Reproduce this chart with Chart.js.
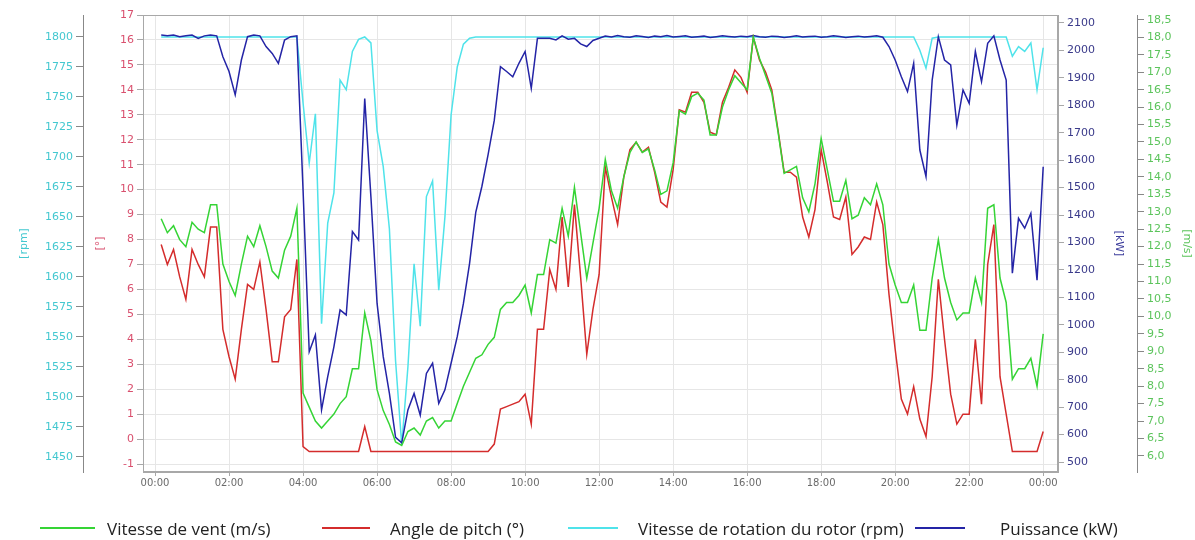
<!DOCTYPE html>
<html lang="fr">
<head>
<meta charset="utf-8">
<title>Eolienne - journée type</title>
<script src="https://cdn.jsdelivr.net/npm/chart.js@4.4.1/dist/chart.umd.min.js"></script>
<style>
  html, body { margin: 0; padding: 0; background: #fff; }
  #wrap { position: relative; width: 1195px; height: 540px; }
  #legend { position: absolute; left: 0; top: 516px; width: 1195px; height: 24px;
            font-family: "Open Sans", sans-serif; font-size: 17px; color: #222; }
  #legend .item { position: absolute; top: 0; height: 24px; display: flex; align-items: center; white-space: nowrap; }
  #legend .line { display: inline-block; height: 2px; }
</style>
</head>
<body>
<div id="wrap">
  <canvas id="myChart"></canvas>
  <div id="legend"></div>
</div>
<script>
// 10 min samples, one line = 2 hours
const TIMES = [
  "00:10","00:20","00:30","00:40","00:50","01:00","01:10","01:20","01:30","01:40","01:50","02:00",
  "02:10","02:20","02:30","02:40","02:50","03:00","03:10","03:20","03:30","03:40","03:50","04:00",
  "04:10","04:20","04:30","04:40","04:50","05:00","05:10","05:20","05:30","05:40","05:50","06:00",
  "06:10","06:20","06:30","06:40","06:50","07:00","07:10","07:20","07:30","07:40","07:50","08:00",
  "08:10","08:20","08:30","08:40","08:50","09:00","09:10","09:20","09:30","09:40","09:50","10:00",
  "10:10","10:20","10:30","10:40","10:50","11:00","11:10","11:20","11:30","11:40","11:50","12:00",
  "12:10","12:20","12:30","12:40","12:50","13:00","13:10","13:20","13:30","13:40","13:50","14:00",
  "14:10","14:20","14:30","14:40","14:50","15:00","15:10","15:20","15:30","15:40","15:50","16:00",
  "16:10","16:20","16:30","16:40","16:50","17:00","17:10","17:20","17:30","17:40","17:50","18:00",
  "18:10","18:20","18:30","18:40","18:50","19:00","19:10","19:20","19:30","19:40","19:50","20:00",
  "20:10","20:20","20:30","20:40","20:50","21:00","21:10","21:20","21:30","21:40","21:50","22:00",
  "22:10","22:20","22:30","22:40","22:50","23:00","23:10","23:20","23:30","23:40","23:50","24:00",
];

// m/s
const WIND_SPEED = [
  12.8, 12.4, 12.6, 12.2, 12.0, 12.7, 12.5, 12.4, 13.2, 13.2, 11.5, 11.0,
  10.6, 11.5, 12.3, 12.0, 12.6, 12.0, 11.3, 11.1, 11.9, 12.3, 13.1, 7.8,
  7.4, 7.0, 6.8, 7.0, 7.2, 7.5, 7.7, 8.5, 8.5, 10.1, 9.3, 7.9,
  7.3, 6.9, 6.4, 6.3, 6.7, 6.8, 6.6, 7.0, 7.1, 6.8, 7.0, 7.0,
  7.5, 8.0, 8.4, 8.8, 8.9, 9.2, 9.4, 10.2, 10.4, 10.4, 10.6, 10.9,
  10.1, 11.2, 11.2, 12.2, 12.1, 13.1, 12.3, 13.7, 12.4, 11.1, 12.1, 13.1,
  14.5, 13.6, 13.1, 14.0, 14.7, 15.0, 14.7, 14.8, 14.2, 13.5, 13.6, 14.4,
  15.9, 15.8, 16.3, 16.4, 16.2, 15.2, 15.2, 16.0, 16.5, 16.9, 16.7, 16.5,
  18.0, 17.4, 16.9, 16.4, 15.3, 14.1, 14.2, 14.3, 13.4, 13.0, 13.8, 15.1,
  14.2, 13.3, 13.3, 13.9, 12.8, 12.9, 13.4, 13.2, 13.8, 13.2, 11.5, 10.9,
  10.4, 10.4, 10.9, 9.6, 9.6, 11.1, 12.2, 11.1, 10.4, 9.9, 10.1, 10.1,
  11.1, 10.4, 13.1, 13.2, 11.1, 10.4, 8.2, 8.5, 8.5, 8.8, 8.0, 9.5,
];

// degrees
const PITCH = [
  7.8, 7.0, 7.6, 6.5, 5.6, 7.6, 7.0, 6.5, 8.5, 8.5, 4.4, 3.3,
  2.4, 4.4, 6.2, 6.0, 7.1, 5.2, 3.1, 3.1, 4.9, 5.2, 7.2, -0.3,
  -0.5, -0.5, -0.5, -0.5, -0.5, -0.5, -0.5, -0.5, -0.5, 0.5, -0.5, -0.5,
  -0.5, -0.5, -0.5, -0.5, -0.5, -0.5, -0.5, -0.5, -0.5, -0.5, -0.5, -0.5,
  -0.5, -0.5, -0.5, -0.5, -0.5, -0.5, -0.2, 1.2, 1.3, 1.4, 1.5, 1.8,
  0.6, 4.4, 4.4, 6.8, 6.0, 8.9, 6.1, 9.4, 6.5, 3.4, 5.2, 6.6,
  10.9, 9.7, 8.6, 10.5, 11.6, 11.9, 11.5, 11.7, 10.7, 9.5, 9.3, 10.8,
  13.2, 13.1, 13.9, 13.9, 13.5, 12.3, 12.2, 13.5, 14.1, 14.8, 14.5, 13.9,
  16.1, 15.2, 14.7, 14.0, 12.4, 10.7, 10.7, 10.5, 8.9, 8.1, 9.2, 11.6,
  10.3, 8.9, 8.8, 9.7, 7.4, 7.7, 8.1, 8.0, 9.5, 8.6, 5.8, 3.6,
  1.6, 1.0, 2.1, 0.8, 0.1, 2.5, 6.4, 4.0, 1.8, 0.6, 1.0, 1.0,
  4.0, 1.4, 7.0, 8.6, 2.5, 1.0, -0.5, -0.5, -0.5, -0.5, -0.5, 0.3,
];

// rpm
const ROTOR_SPEED = [
  1800, 1800, 1800, 1800, 1800, 1800, 1800, 1800, 1800, 1800, 1800, 1800,
  1800, 1800, 1800, 1800, 1800, 1800, 1800, 1800, 1800, 1800, 1800, 1745,
  1695, 1736, 1561, 1645, 1670, 1764, 1756, 1788, 1798, 1800, 1795, 1722,
  1692, 1640, 1530, 1460, 1525, 1611, 1559, 1667, 1680, 1589, 1650, 1735,
  1775, 1794, 1799, 1800, 1800, 1800, 1800, 1800, 1800, 1800, 1800, 1800,
  1800, 1800, 1800, 1800, 1800, 1800, 1800, 1800, 1800, 1800, 1800, 1800,
  1800, 1800, 1800, 1800, 1800, 1800, 1800, 1800, 1800, 1800, 1800, 1800,
  1800, 1800, 1800, 1800, 1800, 1800, 1800, 1800, 1800, 1800, 1800, 1800,
  1800, 1800, 1800, 1800, 1800, 1800, 1800, 1800, 1800, 1800, 1800, 1800,
  1800, 1800, 1800, 1800, 1800, 1800, 1800, 1800, 1800, 1800, 1800, 1800,
  1800, 1800, 1800, 1789, 1774, 1799, 1800, 1800, 1800, 1800, 1800, 1800,
  1800, 1800, 1800, 1800, 1800, 1800, 1784, 1792, 1788, 1795, 1756, 1791,
];

// kW
const POWER = [
  2056, 2053, 2056, 2050, 2053, 2056, 2044, 2053, 2056, 2053, 1977, 1923,
  1838, 1965, 2050, 2056, 2053, 2014, 1989, 1953, 2038, 2050, 2053, 1491,
  902, 963, 690, 811, 920, 1054, 1036, 1340, 1309, 1825, 1467, 1078,
  884, 750, 590, 570, 690, 750, 671, 823, 860, 714, 763, 860,
  957, 1078, 1224, 1410, 1505, 1620, 1745, 1941, 1923, 1904, 1953, 1996,
  1862, 2044, 2044, 2044, 2038, 2053, 2041, 2044, 2024, 2014, 2036, 2044,
  2052, 2049, 2054, 2050, 2048, 2053, 2051, 2047, 2052, 2050, 2054, 2049,
  2051, 2053, 2048, 2050, 2052, 2047, 2050, 2053, 2051, 2049, 2052, 2050,
  2054, 2050, 2048, 2052, 2051, 2047, 2050, 2053, 2049, 2051, 2052, 2048,
  2050, 2053, 2051, 2047, 2050, 2052, 2049, 2051, 2053, 2048, 2014, 1965,
  1904, 1850, 1953, 1637, 1540, 1892, 2050, 1965, 1947, 1728, 1856, 1807,
  1996, 1886, 2026, 2053, 1965, 1892, 1188, 1388, 1352, 1406, 1163, 1576,
];

const GREEN = '#35d435';
const RED = '#d42c2c';
const CYAN = '#4fe3ea';
const BLUE = '#2424a6';

const tick_font = {family: 'DejaVu Sans', size: 11};
const title_font = {family: 'DejaVu Sans', size: 11};

function to_minutes(t) {
  const [h, m] = t.split(':').map(Number);
  return h * 60 + m;
}

function points(values) {
  return values.map((v, i) => ({x: to_minutes(TIMES[i]), y: v}));
}

function hhmm(v) {
  const h = Math.round(v / 60) % 24;
  return (h < 10 ? '0' : '') + h + ':00';
}

// frame around the plot (top side has no axis)
const plot_frame = {
  id: 'plotFrame',
  beforeDatasetsDraw(chart) {
    const {ctx, chartArea: a} = chart;
    ctx.save();
    ctx.strokeStyle = '#a8a8a8';
    ctx.lineWidth = 1;
    ctx.strokeRect(Math.round(a.left) + 0.5, Math.round(a.top) + 0.5, Math.round(a.width) - 1, Math.round(a.height) - 1);
    ctx.restore();
  }
};

const datasets = [
  {label: 'Vitesse de vent (m/s)', data: points(WIND_SPEED), yAxisID: 'yWind', borderColor: GREEN, backgroundColor: GREEN, order: 0},
  {label: 'Angle de pitch (°)', data: points(PITCH), yAxisID: 'yPitch', borderColor: RED, backgroundColor: RED, order: 1},
  {label: 'Vitesse de rotation du rotor (rpm)', data: points(ROTOR_SPEED), yAxisID: 'yRpm', borderColor: CYAN, backgroundColor: CYAN, order: 3},
  {label: 'Puissance (kW)', data: points(POWER), yAxisID: 'yPower', borderColor: BLUE, backgroundColor: BLUE, order: 2},
];

const chart = new Chart('myChart', {
  type: 'line',
  data: {datasets: datasets},
  options: {
    responsive: true,
    maintainAspectRatio: false,
    animation: false,
    layout: {padding: {top: 15, bottom: 46, left: 0, right: 0}},
    elements: {
      line: {borderWidth: 1.5, tension: 0},
      point: {radius: 0, hoverRadius: 0},
    },
    plugins: {
      legend: {display: false},
      tooltip: {enabled: false},
    },
    scales: {
      x: {
        type: 'linear', position: 'bottom', min: -19.5, max: 1464,
        afterFit: s => { s.height = 22; },
        ticks: {stepSize: 120, includeBounds: false, autoSkip: false, maxRotation: 0, padding: 1,
                color: '#6a6a6a', font: {family: 'DejaVu Sans', size: 10}, callback: v => hhmm(v)},
        grid: {color: '#e6e6e6', tickLength: 4, tickColor: '#a8a8a8'},
        border: {color: '#a8a8a8'},
      },
      yRpm: {
        position: 'left', weight: 2, min: 1437.5, max: 1818.3,
        afterFit: s => { s.width = 83; },
        ticks: {stepSize: 25, includeBounds: false, autoSkip: false, color: '#44c8d0', font: tick_font,
                callback: v => String(v)},
        grid: {drawOnChartArea: false, tickLength: 7, tickColor: '#888'},
        border: {color: '#888'},
        title: {display: true, text: '[rpm]', color: '#44c8d0', font: title_font, padding: {top: 18, bottom: 0}},
      },
      yPitch: {
        position: 'left', weight: 1, min: -1.32, max: 17,
        afterFit: s => { s.width = 60; },
        ticks: {stepSize: 1, includeBounds: false, autoSkip: false, color: '#d9506e', font: tick_font},
        grid: {color: '#e6e6e6', tickLength: 6, tickColor: '#a8a8a8'},
        border: {color: '#a8a8a8'},
        title: {display: true, text: '[°]', color: '#d9506e', font: title_font, padding: {top: 11, bottom: 0}},
      },
      yPower: {
        position: 'right', weight: 1, min: 463.7, max: 2129,
        afterFit: s => { s.width = 79; },
        ticks: {stepSize: 100, includeBounds: false, autoSkip: false, color: '#3a3a8a', font: tick_font,
                callback: v => String(v)},
        grid: {drawOnChartArea: false, tickLength: 6, tickColor: '#a8a8a8'},
        border: {color: '#a8a8a8'},
        title: {display: true, text: '[kW]', color: '#3a3a9a', font: title_font, padding: {top: 12, bottom: 0}},
      },
      yWind: {
        position: 'right', weight: 2, min: 5.54, max: 18.64,
        afterFit: s => { s.width = 58; },
        ticks: {stepSize: 0.5, includeBounds: false, autoSkip: false, color: '#5cc45c', font: tick_font,
                callback: v => v.toFixed(1).replace('.', ',')},
        grid: {drawOnChartArea: false, tickLength: 7, tickColor: '#888'},
        border: {color: '#888'},
        title: {display: true, text: '[m/s]', color: '#5cc45c', font: title_font, padding: {top: 2, bottom: 0}},
      },
    },
  },
  plugins: [plot_frame],
});

// legend under the chart, spread like the original document
const legend_layout = [
  {line_x: 40, line_w: 55, text_x: 107},
  {line_x: 322, line_w: 48, text_x: 390},
  {line_x: 568, line_w: 50, text_x: 638},
  {line_x: 915, line_w: 50, text_x: 1000},
];
const legend_box = document.getElementById('legend');
datasets.forEach((ds, i) => {
  const pos = legend_layout[i];
  const item = document.createElement('div');
  item.className = 'item';
  item.style.left = pos.line_x + 'px';
  const line = document.createElement('span');
  line.className = 'line';
  line.style.width = pos.line_w + 'px';
  line.style.background = ds.borderColor;
  line.style.marginRight = (pos.text_x - pos.line_x - pos.line_w) + 'px';
  const text = document.createElement('span');
  text.textContent = ds.label;
  item.appendChild(line);
  item.appendChild(text);
  legend_box.appendChild(item);
});
</script>
</body>
</html>
